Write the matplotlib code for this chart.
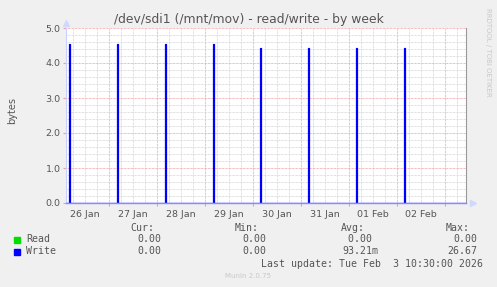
import matplotlib
matplotlib.use("Agg")
import matplotlib.pyplot as plt
import matplotlib.dates as mdates
import matplotlib.ticker as mticker
import pandas as pd

# data (Munin weekly graph, 30 min samples)
start = pd.Timestamp("2026-01-26 02:30")
end = pd.Timestamp("2026-02-03 10:30")
spike_times = ["2026-01-26 04:00", "2026-01-27 04:00", "2026-01-28 04:00", "2026-01-29 04:00",
               "2026-01-30 03:30", "2026-01-31 03:30", "2026-02-01 03:30", "2026-02-02 03:30"]
spike_heights = [4.54, 4.54, 4.54, 4.54, 4.42, 4.42, 4.42, 4.42]
read_times = [start, end]
read_values = [0.0, 0.0]

legend_names = ["Read", "Write"]
legend_colors = ["#00e000", "#0000ff"]
cur_vals = ["0.00", "0.00"]
min_vals = ["0.00", "0.00"]
avg_vals = ["0.00 ", "93.21m"]
max_vals = ["0.00", "26.67"]

# write series as step points: rise at spike, drop one sample later
w_t = [start]
w_v = [0.0]
for t, h in zip(spike_times, spike_heights):
    t = pd.Timestamp(t)
    w_t += [t, t + pd.Timedelta(minutes=30)]
    w_v += [h, 0.0]
w_t.append(end)
w_v.append(0.0)

W, H = 497, 287
BG = "#f0f0f0"
TXT = "#555555"

fig = plt.figure(figsize=(W / 100, H / 100), dpi=100, facecolor=BG)
ax = fig.add_axes([66 / W, 1 - 203 / H, 400 / W, 175 / H])
ax.set_facecolor("white")

ax.plot(read_times, read_values, color=legend_colors[0], lw=0.7, zorder=2.2)
ax.plot(w_t, w_v, color=legend_colors[1], lw=0.9, drawstyle="steps-post", zorder=4)

ax.set_xlim(start, end)
ax.set_ylim(0, 5)

ax.xaxis.set_major_locator(mdates.DayLocator())
ax.xaxis.set_minor_locator(mdates.HourLocator(byhour=[6, 12, 18]))
ax.xaxis.set_major_formatter(mticker.NullFormatter())
ax.xaxis.set_minor_formatter(mticker.FuncFormatter(
    lambda x, p: mdates.num2date(x).strftime("%d %b") if mdates.num2date(x).hour == 12 else ""))
ax.yaxis.set_major_locator(mticker.MultipleLocator(1))
ax.yaxis.set_minor_locator(mticker.MultipleLocator(0.2))
ax.yaxis.set_major_formatter(mticker.FormatStrFormatter("%.1f"))

dots = (0, (0.72, 0.72))
ax.grid(which="minor", color="#d4d4d4", lw=0.7, ls=dots, zorder=1)
ax.grid(which="major", color="#f0a0a0", lw=0.7, ls=dots, zorder=2)
ax.set_axisbelow(True)

ax.tick_params(axis="both", which="both", labelsize=6.8, labelcolor=TXT, pad=2)
ax.tick_params(axis="x", which="major", length=2, color="#f0a0a0")
ax.tick_params(axis="x", which="minor", length=0, pad=5)
ax.tick_params(axis="y", which="major", length=2, color="#f0a0a0")
ax.tick_params(axis="y", which="minor", length=0)

ax.spines["top"].set_visible(False)
ax.spines["right"].set_color("#999999")
ax.spines["right"].set_linewidth(0.8)
ax.spines["left"].set_color("#c8d0ff")
ax.spines["left"].set_linewidth(0.8)
ax.spines["bottom"].set_color("#8c8cf0")
ax.spines["bottom"].set_linewidth(1.0)
ax.spines["bottom"].set_zorder(5)

# axis arrows
ax.plot([0], [1.03], marker="^", ms=4, color="#d0d8ff", transform=ax.transAxes, clip_on=False)
ax.plot([1.017], [0], marker=">", ms=4, color="#d0d8ff", transform=ax.transAxes, clip_on=False)


def fy(y):
    return 1 - y / H


fig.text(12 / W, fy(110), "bytes", rotation=90, ha="center", va="center", fontsize=7, color=TXT)
fig.text(249 / W, fy(19), "/dev/sdi1 (/mnt/mov) - read/write - by week",
         ha="center", va="center", fontsize=8.9, color=TXT)
fig.text(488 / W, fy(52), "RRDTOOL / TOBI OETIKER", rotation=270,
         ha="center", va="center", fontsize=5, color="#c8c8c8")

mono = dict(family="DejaVu Sans Mono", fontsize=7.1, color=TXT, va="center")
fig.text(154 / W, fy(228), "Cur:", ha="right", **mono)
fig.text(259 / W, fy(228), "Min:", ha="right", **mono)
fig.text(365 / W, fy(228), "Avg:", ha="right", **mono)
fig.text(470 / W, fy(228), "Max:", ha="right", **mono)
for i, name in enumerate(legend_names):
    y = 239.5 + i * 12
    fig.patches.append(plt.Rectangle((14 / W, fy(y + 3)), 6 / W, 6 / H,
                                     transform=fig.transFigure, color=legend_colors[i]))
    fig.text(26 / W, fy(y), name, ha="left", **mono)
    fig.text(161 / W, fy(y), cur_vals[i], ha="right", **mono)
    fig.text(266 / W, fy(y), min_vals[i], ha="right", **mono)
    fig.text(378 / W, fy(y), avg_vals[i], ha="right", **mono)
    fig.text(477 / W, fy(y), max_vals[i], ha="right", **mono)
fig.text(483 / W, fy(264), "Last update: Tue Feb  3 10:30:00 2026", ha="right", **mono)
fig.text(248 / W, fy(276), "Munin 2.0.75", ha="center", va="center", fontsize=5, color="#c8c8c8")

fig.savefig("out.png", dpi=100, facecolor=BG)
